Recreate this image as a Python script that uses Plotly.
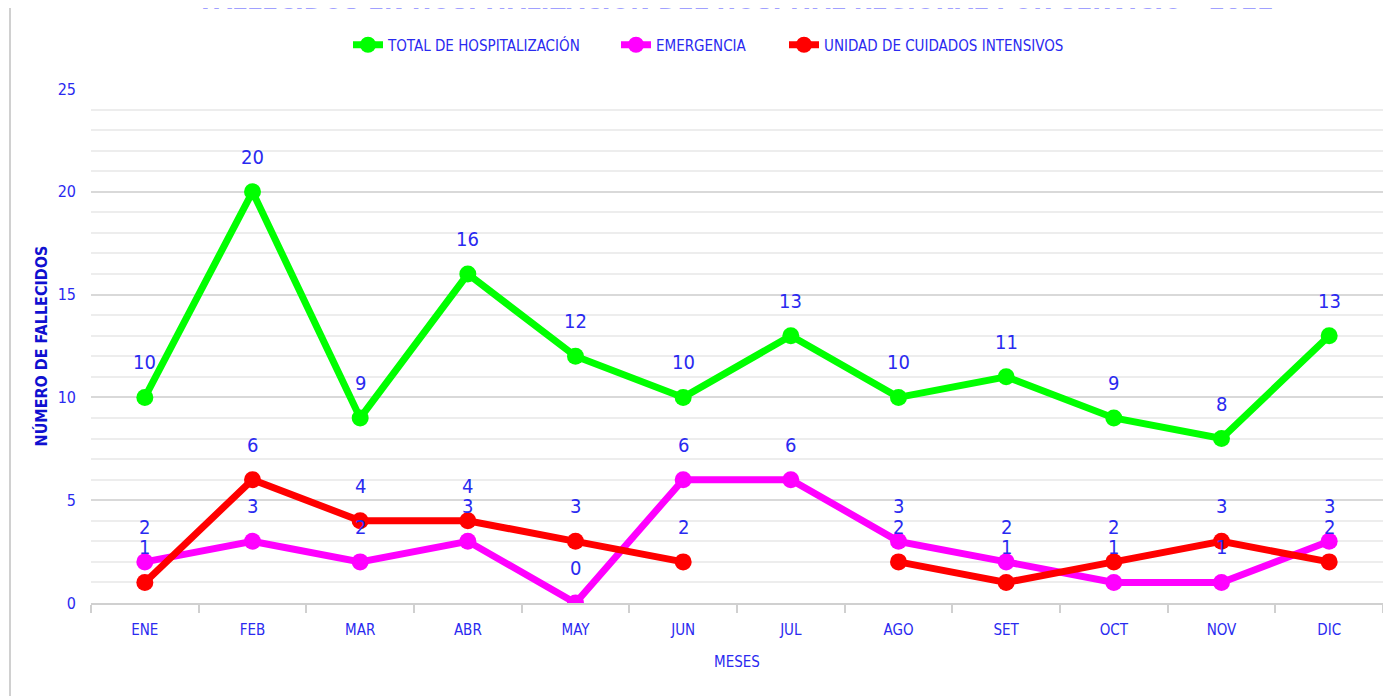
import plotly.graph_objects as go

meses = ["ENE", "FEB", "MAR", "ABR", "MAY", "JUN", "JUL", "AGO", "SET", "OCT", "NOV", "DIC"]
total_hosp = [10, 20, 9, 16, 12, 10, 13, 10, 11, 9, 8, 13]
emergencia = [2, 3, 2, 3, 0, 6, 6, 3, 2, 1, 1, 3]
uci = [1, 6, 4, 4, 3, 2, None, 2, 1, 2, 3, 2]

series = [
    ("TOTAL DE HOSPITALIZACIÓN", total_hosp, "#00FF00", "legend"),
    ("EMERGENCIA", emergencia, "#FF00FF", "legend2"),
    ("UNIDAD DE CUIDADOS INTENSIVOS", uci, "#FF0000", "legend3"),
]

FONT = "DejaVu Sans Condensed, Liberation Sans Narrow, Liberation Sans, sans-serif"
BLUE = "#2A2AF0"
W, H = 1383, 688

fig = go.Figure()
annotations = []
for name, vals, color, lg in series:
    fig.add_trace(go.Scatter(
        x=meses, y=vals, name=name, mode="lines+markers",
        line=dict(color=color, width=7),
        marker=dict(color=color, size=17),
        connectgaps=False, legend=lg,
    ))
    for m, v in zip(meses, vals):
        if v is None:
            continue
        annotations.append(dict(
            x=m, y=v, xref="x", yref="y", text=str(v), showarrow=False,
            yshift=35, font=dict(family=FONT, size=20, color=BLUE),
        ))

annotations.append(dict(
    x=0.5, y=1.0, xref="paper", yref="paper", yanchor="bottom", yshift=72,
    text="<b>FALLECIDOS EN HOSPITALIZACIÓN DEL HOSPITAL REGIONAL POR SERVICIO - 2022</b>",
    showarrow=False, font=dict(family=FONT, size=26, color="#A0A0FF"),
))

def leg(xpx):
    return dict(orientation="h", x=xpx / W, xanchor="left", y=1 - 37 / H, yanchor="middle",
                xref="container", yref="container",
                font=dict(family=FONT, size=15, color=BLUE), itemwidth=30)

fig.update_layout(
    width=W, height=H,
    paper_bgcolor="white", plot_bgcolor="white",
    margin=dict(l=83, r=8, t=81, b=93, autoexpand=False),
    font=dict(family=FONT, color=BLUE, size=15),
    showlegend=True,
    legend=leg(340), legend2=leg(608), legend3=leg(776),
    annotations=annotations,
    shapes=[dict(type="line", xref="paper", yref="paper",
                 x0=-81/1292, x1=-81/1292, y0=-93/514, y1=1 + 81/514,
                 line=dict(color="#D0D0D0", width=2))],
)

fig.update_xaxes(
    showline=True, linecolor="#D0D0D0", linewidth=2,
    ticks="outside", tickson="boundaries", ticklen=8, tickcolor="#D0D0D0", tickwidth=2,
    showgrid=False, tickfont=dict(family=FONT, size=15, color=BLUE), tickangle=0,
    ticklabelstandoff=12,
    title=dict(text="MESES", font=dict(family=FONT, size=15, color=BLUE), standoff=18),
    range=[-0.5, 11.5], fixedrange=True,
)
fig.update_yaxes(
    range=[0, 25], dtick=5, showline=False, zeroline=False,
    showgrid=True, gridcolor="#D9D9D9", gridwidth=2,
    minor=dict(dtick=1, showgrid=True, gridcolor="#EDEDED", gridwidth=2),
    tickfont=dict(family=FONT, size=16, color=BLUE), ticklabelstandoff=14,
    title=dict(text="<b>NÚMERO DE FALLECIDOS</b>", font=dict(family=FONT, size=16, color="#1010D0"), standoff=6),
)

fig.write_html("out.html")
